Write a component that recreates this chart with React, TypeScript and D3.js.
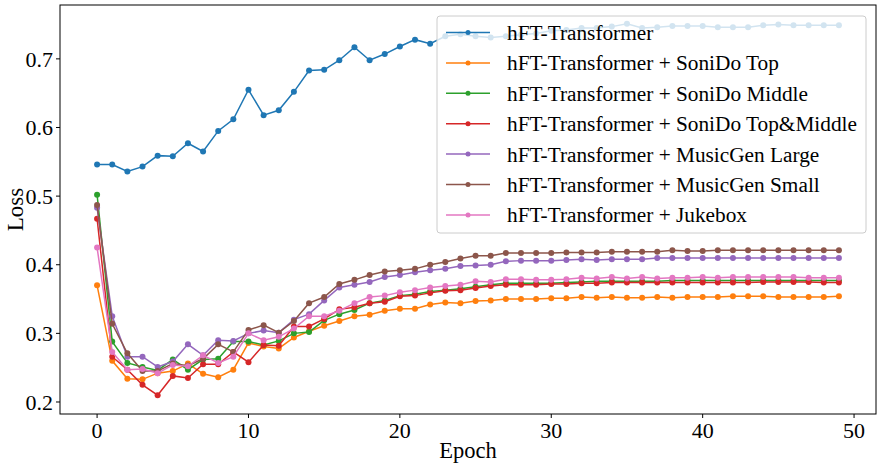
import * as d3 from 'd3';
import React from 'react';

const epochs = d3.range(0, 50);

const seriesNames = [
  'hFT-Transformer',
  'hFT-Transformer + SoniDo Top',
  'hFT-Transformer + SoniDo Middle',
  'hFT-Transformer + SoniDo Top&Middle',
  'hFT-Transformer + MusicGen Large',
  'hFT-Transformer + MusicGen Small',
  'hFT-Transformer + Jukebox',
];

const colors = ['#1f77b4', '#ff7f0e', '#2ca02c', '#d62728', '#9467bd', '#8c564b', '#e377c2'];

const hft = [
  0.546, 0.546, 0.536, 0.543, 0.559, 0.558, 0.577, 0.565, 0.595, 0.612,
  0.655, 0.618, 0.625, 0.652, 0.683, 0.684, 0.698, 0.717, 0.698, 0.707,
  0.718, 0.728, 0.722, 0.733, 0.736, 0.733, 0.731, 0.733, 0.735, 0.737,
  0.741, 0.742, 0.745, 0.745, 0.747, 0.751, 0.745, 0.746, 0.748, 0.748,
  0.748, 0.746, 0.746, 0.746, 0.749, 0.750, 0.749, 0.749, 0.749, 0.749,
];

const sonidoTop = [
  0.370, 0.260, 0.234, 0.233, 0.242, 0.245, 0.256, 0.241, 0.236, 0.247,
  0.286, 0.281, 0.278, 0.294, 0.303, 0.311, 0.318, 0.325, 0.327, 0.333,
  0.336, 0.336, 0.342, 0.345, 0.344, 0.347, 0.348, 0.350, 0.350, 0.350,
  0.351, 0.351, 0.353, 0.352, 0.353, 0.352, 0.352, 0.353, 0.352, 0.353,
  0.353, 0.353, 0.354, 0.354, 0.354, 0.353, 0.353, 0.353, 0.353, 0.354,
];

const sonidoMiddle = [
  0.502, 0.288, 0.257, 0.251, 0.246, 0.262, 0.247, 0.262, 0.263, 0.288,
  0.288, 0.283, 0.289, 0.300, 0.302, 0.319, 0.328, 0.334, 0.344, 0.348,
  0.355, 0.357, 0.361, 0.363, 0.365, 0.368, 0.371, 0.373, 0.373, 0.373,
  0.373, 0.374, 0.375, 0.376, 0.376, 0.376, 0.376, 0.376, 0.377, 0.377,
  0.377, 0.377, 0.377, 0.377, 0.377, 0.377, 0.377, 0.377, 0.377, 0.377,
];

const sonidoTopMiddle = [
  0.467, 0.266, 0.247, 0.225, 0.210, 0.238, 0.235, 0.255, 0.255, 0.273,
  0.258, 0.283, 0.282, 0.310, 0.310, 0.321, 0.335, 0.338, 0.344, 0.346,
  0.354, 0.355, 0.359, 0.362, 0.363, 0.366, 0.369, 0.371, 0.371, 0.371,
  0.372, 0.372, 0.373, 0.373, 0.374, 0.374, 0.374, 0.374, 0.374, 0.374,
  0.374, 0.374, 0.374, 0.374, 0.375, 0.375, 0.375, 0.375, 0.374, 0.374,
];

const musicgenLarge = [
  0.483, 0.325, 0.266, 0.266, 0.251, 0.259, 0.284, 0.268, 0.290, 0.289,
  0.300, 0.304, 0.301, 0.320, 0.328, 0.348, 0.367, 0.371, 0.375, 0.382,
  0.385, 0.389, 0.392, 0.394, 0.398, 0.399, 0.400, 0.405, 0.406, 0.406,
  0.406, 0.407, 0.408, 0.407, 0.408, 0.408, 0.408, 0.410, 0.410, 0.410,
  0.410, 0.410, 0.410, 0.410, 0.410, 0.410, 0.410, 0.410, 0.410, 0.410,
];

const musicgenSmall = [
  0.487, 0.314, 0.271, 0.245, 0.245, 0.256, 0.253, 0.263, 0.284, 0.273,
  0.305, 0.312, 0.301, 0.318, 0.344, 0.353, 0.372, 0.378, 0.385, 0.390,
  0.392, 0.394, 0.400, 0.404, 0.409, 0.413, 0.413, 0.417, 0.417, 0.417,
  0.417, 0.418, 0.418, 0.418, 0.419, 0.419, 0.419, 0.419, 0.421, 0.420,
  0.420, 0.421, 0.421, 0.421, 0.421, 0.421, 0.421, 0.421, 0.421, 0.421,
];

const jukebox = [
  0.425, 0.273, 0.247, 0.248, 0.242, 0.254, 0.252, 0.268, 0.257, 0.266,
  0.300, 0.290, 0.295, 0.307, 0.325, 0.325, 0.333, 0.344, 0.353, 0.355,
  0.360, 0.363, 0.367, 0.369, 0.371, 0.376, 0.375, 0.379, 0.379, 0.378,
  0.378, 0.379, 0.381, 0.380, 0.382, 0.380, 0.382, 0.380, 0.381, 0.381,
  0.382, 0.381, 0.382, 0.382, 0.382, 0.382, 0.382, 0.381, 0.381, 0.381,
];

const allSeries = [hft, sonidoTop, sonidoMiddle, sonidoTopMiddle, musicgenLarge, musicgenSmall, jukebox];

const xTicks = [0, 10, 20, 30, 40, 50];
const yTicks = [0.2, 0.3, 0.4, 0.5, 0.6, 0.7];

const W = 882;
const H = 467;
const FONT = '"Liberation Serif", "Times New Roman", serif';

export default function App() {
  const left = 60, right = 876, top = 5, bottom = 414;

  const x = d3.scaleLinear().domain([-2.45, 51.45]).range([left, right]);
  const y = d3.scaleLinear().domain([0.1825, 0.7785]).range([bottom, top]);

  const line = d3
    .line<number>()
    .x((d, i) => x(epochs[i]))
    .y((d) => y(d));

  // legend box
  const lgX = 437, lgY = 16, lgW = 429, lgH = 217;
  const rowH = 30.4;

  return (
    <div style={{ position: 'absolute', left: 0, top: 0 }}>
      <svg width={W} height={H} style={{ display: 'block', background: '#fff' }}>
        {allSeries.map((s, k) => (
          <g key={k}>
            <path d={line(s) || ''} fill="none" stroke={colors[k]} strokeWidth={1.5} />
            {s.map((v, i) => (
              <circle key={i} cx={x(epochs[i])} cy={y(v)} r={3} fill={colors[k]} />
            ))}
          </g>
        ))}

        {/* frame */}
        <rect x={left} y={top} width={right - left} height={bottom - top} fill="none" stroke="#000" strokeWidth={1} />

        {/* x axis */}
        {xTicks.map((t) => (
          <g key={t}>
            <line x1={x(t)} x2={x(t)} y1={bottom} y2={bottom + 4} stroke="#000" />
            <text x={x(t)} y={438} textAnchor="middle" fontFamily={FONT} fontSize={22}>
              {t}
            </text>
          </g>
        ))}
        <text x={(left + right) / 2} y={458} textAnchor="middle" fontFamily={FONT} fontSize={22.5}>
          Epoch
        </text>

        {/* y axis */}
        {yTicks.map((t) => (
          <g key={t}>
            <line x1={left - 4} x2={left} y1={y(t)} y2={y(t)} stroke="#000" />
            <text x={left - 7} y={y(t)} dy="0.35em" textAnchor="end" fontFamily={FONT} fontSize={22}>
              {t.toFixed(1)}
            </text>
          </g>
        ))}
        <text
          transform={`translate(23,${(top + bottom) / 2}) rotate(-90)`}
          textAnchor="middle"
          fontFamily={FONT}
          fontSize={23}
        >
          Loss
        </text>

        {/* legend */}
        <rect x={lgX} y={lgY} width={lgW} height={lgH} rx={3} fill="#fff" fillOpacity={0.8} stroke="#ccc" strokeWidth={1} />
        {seriesNames.map((name, k) => {
          const cy = lgY + 16.5 + k * rowH;
          return (
            <g key={name}>
              <line x1={lgX + 9} x2={lgX + 53} y1={cy} y2={cy} stroke={colors[k]} strokeWidth={1.5} />
              <circle cx={lgX + 31} cy={cy} r={2.5} fill={colors[k]} />
              <text x={lgX + 70} y={cy} dy="0.35em" fontFamily={FONT} fontSize={21.3}>
                {name}
              </text>
            </g>
          );
        })}
      </svg>
    </div>
  );
}
